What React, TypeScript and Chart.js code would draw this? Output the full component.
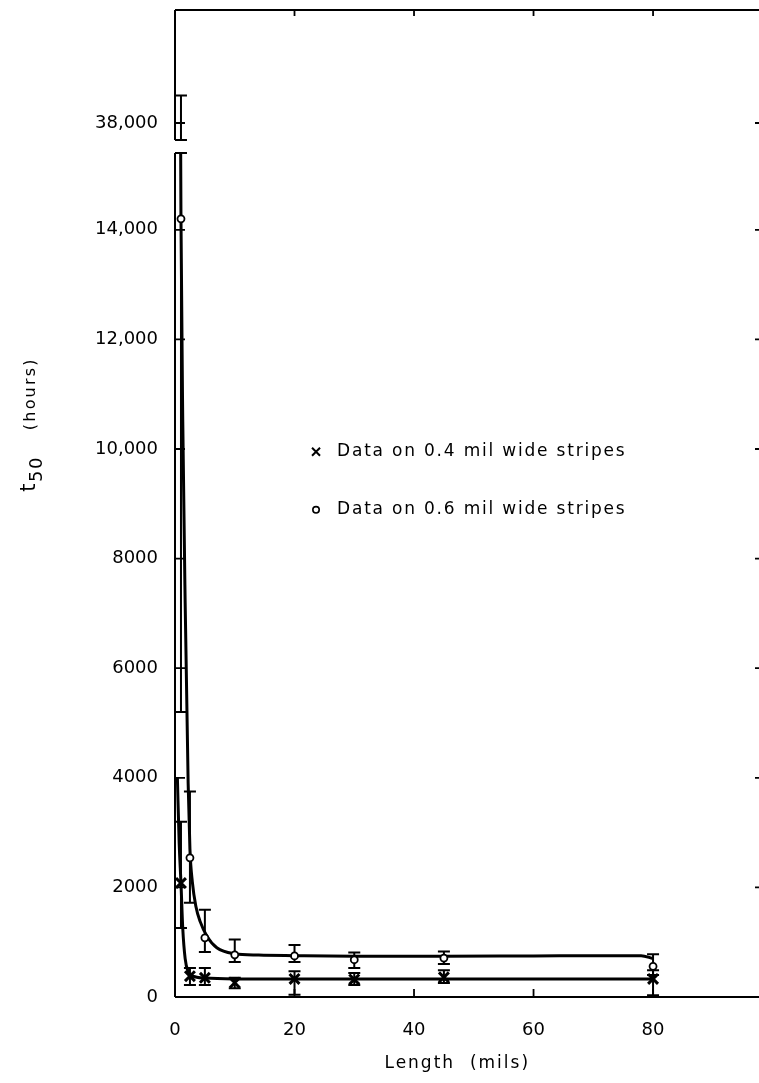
import { useEffect, useRef } from 'react';
import { Chart, LinearScale, registerables } from 'chart.js';

// Stripe lengths (mils) at which t50 was measured
const lengthMils = [1, 2.5, 5, 10, 20, 30, 45, 80];

// 0.4 mil wide stripes: median life and spread (hours)
const t50Narrow = [2080, 380, 350, 260, 330, 320, 360, 330];
const t50NarrowLow = [1260, 220, 220, 160, 40, 220, 255, 30];
const t50NarrowHigh = [3200, 530, 530, 350, 470, 440, 490, 490];

// 0.6 mil wide stripes: median life and spread (hours)
const t50Wide = [14200, 2540, 1080, 770, 750, 680, 710, 560];
const t50WideLow = [5200, 1720, 820, 640, 640, 530, 600, 400];
const t50WideHigh = [38500, 3750, 1590, 1050, 950, 810, 830, 780];

// Hand-fitted curves through each data set
const fitNarrowLength = [0.4, 0.7, 1.0, 1.3, 1.7, 2.2, 3, 5, 10, 20, 45, 80];
const fitNarrowT50 = [4000, 2800, 2080, 1250, 700, 460, 380, 345, 330, 330, 330, 330];
const fitWideLength = [0.95, 1.0, 1.3, 1.7, 2.2, 2.5, 2.9, 3.5, 4.2, 5.4, 7, 10, 14, 20, 30, 45, 60, 78, 80];
const fitWideT50 = [15400, 14200, 10500, 7200, 3900, 2700, 2100, 1650, 1380, 1100, 900, 790, 765, 755, 745, 745, 750, 755, 700];

// Axis ticks
const xTickValues = [0, 20, 40, 60, 80];
const yTickValues = [0, 2000, 4000, 6000, 8000, 10000, 12000, 14000, 38000];

const legendLabels = ['Data on 0.4 mil wide stripes', 'Data on 0.6 mil wide stripes'];

// Broken y axis: values up to BREAK_LOW are drawn as-is, values from BREAK_HIGH up
// are shifted down by BREAK_SHIFT so the 38,000 region sits just above the break.
const BREAK_LOW = 15400;
const BREAK_HIGH = 37690;
const BREAK_SHIFT = 22051;

function toAxis(v: number): number {
  if (v <= BREAK_LOW) return v;
  if (v >= BREAK_HIGH) return v - BREAK_SHIFT;
  const span = BREAK_HIGH - BREAK_SHIFT - BREAK_LOW;
  return BREAK_LOW + ((v - BREAK_LOW) / (BREAK_HIGH - BREAK_LOW)) * span;
}

function fromAxis(a: number): number {
  const top = BREAK_HIGH - BREAK_SHIFT;
  if (a <= BREAK_LOW) return a;
  if (a >= top) return a + BREAK_SHIFT;
  return BREAK_LOW + ((a - BREAK_LOW) / (top - BREAK_LOW)) * (BREAK_HIGH - BREAK_LOW);
}

class BrokenLinearScale extends LinearScale {
  static id = 'brokenLinear';
  static defaults = {};
  getPixelForValue(value: number) {
    return super.getPixelForValue(toAxis(value));
  }
  getValueForPixel(pixel: number) {
    return fromAxis(super.getValueForPixel(pixel) as number);
  }
}

Chart.register(...registerables, BrokenLinearScale);

const FONT = '"DejaVu Sans", sans-serif';
const CANVAS_W = 763;
const CANVAS_H = 1083;

function formatTick(v: number): string {
  return v >= 10000 ? v.toLocaleString('en-US') : String(v);
}

function drawCross(ctx: CanvasRenderingContext2D, x: number, y: number, r: number, w: number) {
  ctx.save();
  ctx.lineWidth = w;
  ctx.strokeStyle = '#000';
  ctx.beginPath();
  ctx.moveTo(x - r, y - r);
  ctx.lineTo(x + r, y + r);
  ctx.moveTo(x + r, y - r);
  ctx.lineTo(x - r, y + r);
  ctx.stroke();
  ctx.restore();
}

function drawCircle(ctx: CanvasRenderingContext2D, x: number, y: number, r: number, w: number) {
  ctx.save();
  ctx.lineWidth = w;
  ctx.strokeStyle = '#000';
  ctx.fillStyle = '#fff';
  ctx.beginPath();
  ctx.arc(x, y, r, 0, Math.PI * 2);
  ctx.fill();
  ctx.stroke();
  ctx.restore();
}

// Vertical error bars, split in two where they cross the axis break
const errorBarPlugin = {
  id: 'errorBars',
  beforeDatasetsDraw(chart: any) {
    const { ctx } = chart;
    const xs = chart.scales.x;
    const ys = chart.scales.y;
    const sets = [
      [t50NarrowLow, t50NarrowHigh],
      [t50WideLow, t50WideHigh],
    ];
    const cap = 6;
    ctx.save();
    ctx.strokeStyle = '#000';
    ctx.lineWidth = 2;
    const segment = (x: number, lo: number, hi: number) => {
      const y1 = ys.getPixelForValue(lo);
      const y2 = ys.getPixelForValue(hi);
      ctx.beginPath();
      ctx.moveTo(x, y1);
      ctx.lineTo(x, y2);
      ctx.moveTo(x - cap, y1);
      ctx.lineTo(x + cap, y1);
      ctx.moveTo(x - cap, y2);
      ctx.lineTo(x + cap, y2);
      ctx.stroke();
    };
    sets.forEach(([lows, highs]) => {
      lengthMils.forEach((len, i) => {
        const x = xs.getPixelForValue(len);
        const lo = lows[i];
        const hi = highs[i];
        if (lo < BREAK_LOW && hi > BREAK_HIGH) {
          segment(x, lo, BREAK_LOW);
          segment(x, BREAK_HIGH, hi);
        } else {
          segment(x, lo, hi);
        }
      });
    });
    ctx.restore();
  },
};

// Plot frame with inward ticks, axis titles and the legend
const framePlugin = {
  id: 'frame',
  afterDraw(chart: any) {
    const { ctx, chartArea } = chart;
    const { left, right, top, bottom } = chartArea;
    const xs = chart.scales.x;
    const ys = chart.scales.y;
    const breakTop = ys.getPixelForValue(BREAK_HIGH);
    const breakBottom = ys.getPixelForValue(BREAK_LOW);

    ctx.save();
    ctx.strokeStyle = '#000';
    ctx.lineWidth = 2;
    ctx.beginPath();
    ctx.moveTo(left, top);
    ctx.lineTo(right, top);
    ctx.moveTo(left, bottom);
    ctx.lineTo(right, bottom);
    ctx.moveTo(left, top);
    ctx.lineTo(left, breakTop);
    ctx.moveTo(left, breakBottom);
    ctx.lineTo(left, bottom);
    ctx.moveTo(right, top);
    ctx.lineTo(right, bottom);
    ctx.stroke();

    // inward tick marks
    ctx.lineWidth = 1.8;
    ctx.beginPath();
    ys.ticks.forEach((t: any) => {
      if (t.value === 0) return;
      const y = ys.getPixelForValue(t.value);
      ctx.moveTo(left, y);
      ctx.lineTo(left + 10, y);
      ctx.moveTo(right, y);
      ctx.lineTo(right - 8, y);
    });
    xs.ticks.forEach((t: any) => {
      if (t.value === 0) return;
      const x = xs.getPixelForValue(t.value);
      ctx.moveTo(x, bottom);
      ctx.lineTo(x, bottom - 8);
      ctx.moveTo(x, top);
      ctx.lineTo(x, top + 6);
    });
    ctx.stroke();

    // x axis title
    ctx.fillStyle = '#000';
    ctx.textBaseline = 'middle';
    ctx.textAlign = 'center';
    ctx.font = `17px ${FONT}`;
    (ctx as any).letterSpacing = '2px';
    ctx.fillText('Length  (mils)', left + (right - left) * 0.48, bottom + 67);

    // y axis title, rotated, with subscript
    ctx.save();
    ctx.translate(31, top + (bottom - top) * 0.42);
    ctx.rotate(-Math.PI / 2);
    ctx.textAlign = 'left';
    ctx.textBaseline = 'middle';
    (ctx as any).letterSpacing = '1.5px';
    ctx.font = `21px ${FONT}`;
    const wT = ctx.measureText('t').width;
    ctx.font = `18px ${FONT}`;
    const wSub = ctx.measureText('50').width;
    ctx.font = `16px ${FONT}`;
    (ctx as any).letterSpacing = '2.2px';
    const wHours = ctx.measureText('(hours)').width;
    const gap = 26;
    let x0 = -(wT + wSub + gap + wHours) / 2;
    (ctx as any).letterSpacing = '1.5px';
    ctx.font = `21px ${FONT}`;
    ctx.fillText('t', x0, -1);
    x0 += wT;
    ctx.font = `18px ${FONT}`;
    ctx.fillText('50', x0, 6);
    x0 += wSub + gap;
    ctx.font = `16px ${FONT}`;
    (ctx as any).letterSpacing = '2.2px';
    ctx.fillText('(hours)', x0, 0);
    ctx.restore();

    // legend
    ctx.font = `17px ${FONT}`;
    (ctx as any).letterSpacing = '1.8px';
    ctx.textAlign = 'left';
    ctx.textBaseline = 'middle';
    const mx = xs.getPixelForValue(23.6);
    const rows = [ys.getPixelForValue(9950), ys.getPixelForValue(8890)];
    drawCross(ctx, mx, rows[0], 4, 2);
    drawCircle(ctx, mx, rows[1], 3.2, 1.6);
    legendLabels.forEach((label, i) => {
      ctx.fillText(label, mx + 21, rows[i]);
    });
    ctx.restore();
  },
};

const noEdgePadding = (s: any) => {
  s.paddingTop = 0;
  s.paddingBottom = 0;
  s.paddingLeft = 0;
  s.paddingRight = 0;
};

export default function App() {
  const canvasRef = useRef<HTMLCanvasElement | null>(null);

  useEffect(() => {
    const canvas = canvasRef.current;
    if (!canvas) return;
    const chart = new Chart(canvas, {
      type: 'scatter',
      data: {
        datasets: [
          {
            label: legendLabels[0],
            data: lengthMils.map((x, i) => ({ x, y: t50Narrow[i] })),
            showLine: false,
            pointStyle: 'crossRot',
            pointRadius: 7,
            pointBorderWidth: 3,
            pointBorderColor: '#000',
            pointBackgroundColor: '#000',
            order: 0,
          },
          {
            label: legendLabels[1],
            data: lengthMils.map((x, i) => ({ x, y: t50Wide[i] })),
            showLine: false,
            pointStyle: 'circle',
            pointRadius: 3.5,
            pointBorderWidth: 1.8,
            pointBorderColor: '#000',
            pointBackgroundColor: '#fff',
            order: 0,
          },
          {
            label: 'fit 0.4',
            data: fitNarrowLength.map((x, i) => ({ x, y: fitNarrowT50[i] })),
            showLine: true,
            borderColor: '#000',
            borderWidth: 3,
            pointRadius: 0,
            cubicInterpolationMode: 'monotone',
            order: 1,
          },
          {
            label: 'fit 0.6',
            data: fitWideLength.map((x, i) => ({ x, y: fitWideT50[i] })),
            showLine: true,
            borderColor: '#000',
            borderWidth: 3,
            pointRadius: 0,
            cubicInterpolationMode: 'monotone',
            order: 1,
          },
        ],
      },
      options: {
        responsive: false,
        animation: false,
        layout: { autoPadding: false, padding: { top: 10, right: 0, left: 0, bottom: 0 } },
        plugins: {
          legend: { display: false },
          tooltip: { enabled: false },
        },
        scales: {
          x: {
            type: 'linear',
            min: 0,
            max: 98.4,
            grid: { display: false, drawTicks: false },
            border: { display: false },
            afterBuildTicks: (s: any) => {
              s.ticks = xTickValues.map((v) => ({ value: v }));
            },
            afterFit: (s: any) => {
              s.height = 86;
              noEdgePadding(s);
            },
            ticks: {
              autoSkip: false,
              maxRotation: 0,
              padding: 23,
              color: '#000',
              font: { family: FONT, size: 18 },
            },
          },
          y: {
            type: 'brokenLinear' as any,
            min: 0,
            max: 18011,
            grid: { display: false, drawTicks: false },
            border: { display: false },
            afterBuildTicks: (s: any) => {
              s.ticks = yTickValues.map((v) => ({ value: v }));
            },
            afterFit: (s: any) => {
              s.width = 175;
              noEdgePadding(s);
            },
            ticks: {
              autoSkip: false,
              padding: 17,
              color: '#000',
              font: { family: FONT, size: 18 },
              callback: (v: any) => formatTick(Number(v)),
            },
          },
        },
      },
      plugins: [errorBarPlugin, framePlugin],
    } as any);
    return () => chart.destroy();
  }, []);

  return (
    <div style={{ position: 'absolute', left: 0, top: 0, width: 759, height: CANVAS_H, overflow: 'hidden', background: '#fff' }}>
      <canvas ref={canvasRef} width={CANVAS_W} height={CANVAS_H} style={{ display: 'block' }} />
    </div>
  );
}
